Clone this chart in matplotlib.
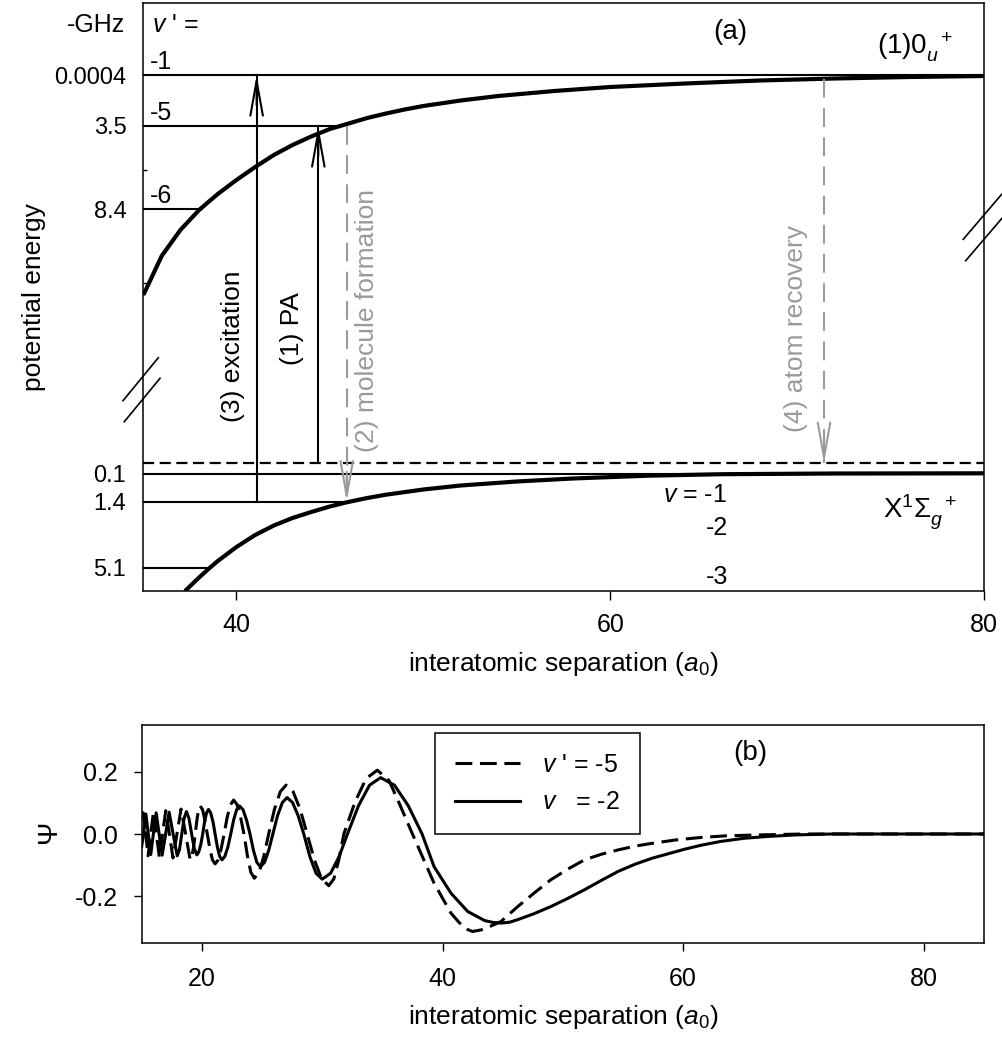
import matplotlib.pyplot as plt
from matplotlib.lines import Line2D

plt.rcParams['font.family'] = ['Liberation Sans', 'DejaVu Sans']
plt.rcParams['mathtext.fontset'] = 'custom'
plt.rcParams['mathtext.rm'] = 'Liberation Sans'
plt.rcParams['mathtext.it'] = 'Liberation Sans:italic'
plt.rcParams['axes.unicode_minus'] = False

GRAY = '#9a9a9a'

# ---------------- panel (a) data ----------------
# energy axis is broken and non-linear, so y is in plot units (0 = bottom, 588 = top)
r_upper = [35.02, 36.0, 37.0, 38.0, 39.0, 40.0, 41.0, 42.0, 43.0, 44.0, 45.0, 46.0,
           47.0, 48.0, 49.0, 50.0, 52.0, 54.0, 57.0, 60.0, 64.0, 68.0, 72.0, 76.0, 80.0]
E_upper = [296, 335, 361, 381, 397, 411, 424, 436, 446, 454.5, 462, 467.5,
           473, 477.5, 481.5, 485, 490.5, 495, 500, 504, 507.5, 510.5, 512.5, 514, 515]

r_lower = [37.25, 38.0, 38.5, 39.0, 40.0, 41.0, 42.0, 43.0, 44.0, 45.0, 45.9, 47.0,
           48.0, 50.0, 52.0, 55.0, 58.0, 62.0, 66.0, 72.0, 80.0]
E_lower = [0, 13.5, 22, 30, 44, 56, 65.5, 73, 79, 84.5, 88.7, 93,
           96.3, 101.5, 105.5, 109.5, 112.5, 115.3, 116.8, 117.5, 117.7]

# bound levels of (1)0u+ : v' = -1, -5, -6
upper_level_pos = [516, 465, 382]
upper_level_end = [80, 45.4, 38.2]
upper_level_names = ['-1', '-5', '-6']
upper_level_ghz = ['0.0004', '3.5', '8.4']

# bound levels of X state : v = -1, -2, -3
lower_level_pos = [117.5, 89.3, 23.3]
lower_level_end = [80, 45.9, 38.5]
lower_level_ghz = ['0.1', '1.4', '5.1']
threshold = 127.7

# transitions
trans_label = ['(3) excitation', '(1) PA', '(2) molecule formation', '(4) atom recovery']
trans_r = [41.08, 44.38, 45.9, 71.44]
trans_from = [89.3, 127.7, 465, 512]
trans_to = [516, 465, 89.3, 127.7]
trans_color = ['k', 'k', GRAY, GRAY]
trans_dashed = [False, False, True, True]
trans_text_r = [39.8, 42.97, 46.99, 69.94]
trans_text_y = [169, 226, 139, 159]

# ---------------- panel (b) data ----------------
r_vp5 = [15.0, 15.13, 15.33, 15.53, 15.75, 15.98, 16.22, 16.47, 16.73, 17.0,
         17.3, 17.6, 17.93, 18.27, 18.65, 19.03, 19.17, 19.31, 19.45, 19.59,
         19.72, 19.86, 20.06, 20.25, 20.45, 20.67, 20.88, 21.1, 21.35, 21.6,
         21.85, 22.11, 22.38, 22.64, 22.93, 23.21, 23.5, 23.79, 24.07, 24.36,
         24.76, 25.15, 25.55, 26.03, 26.52, 27.0, 27.58, 28.17, 28.75, 29.35,
         29.95, 30.55, 30.97, 31.38, 31.8, 32.73, 33.65, 34.58, 35.55, 36.5,
         37.5, 37.9, 39.3, 40.7, 41.4, 42.1, 42.5, 43.2, 44.0, 44.86,
         46.25, 47.6, 49.0, 50.4, 51.8, 53.2, 54.6, 56.0, 57.4, 59.4,
         61.5, 63.5, 66.2, 70.0, 85.0]
psi_vp5 = [0.05, 0.068, 0.0, -0.07, 0.0, 0.072, 0.0, -0.075, 0.0, 0.075,
           0.0, -0.077, 0.0, 0.08, 0.0, -0.083, -0.072, -0.042, 0.0, 0.045,
           0.078, 0.09, 0.078, 0.045, 0.0, -0.048, -0.083, -0.096, -0.083, -0.048,
           0.0, 0.055, 0.094, 0.109, 0.094, 0.055, 0.0, -0.071, -0.123, -0.142,
           -0.123, -0.071, 0.0, 0.079, 0.136, 0.157, 0.136, 0.079, 0.0, -0.083,
           -0.144, -0.166, -0.144, -0.083, 0.0, 0.103, 0.178, 0.205, 0.172, 0.09,
           0.0, -0.035, -0.158, -0.254, -0.285, -0.307, -0.313, -0.308, -0.296, -0.281,
           -0.233, -0.19, -0.147, -0.113, -0.083, -0.065, -0.051, -0.039, -0.03, -0.019,
           -0.011, -0.006, -0.003, 0.0, 0.0]

r_v2 = [15.0, 15.15, 15.35, 15.55, 15.75, 15.97, 16.2, 16.45, 16.7, 16.99,
        17.28, 17.61, 17.95, 18.14, 18.33, 18.52, 18.72, 18.93, 19.15, 19.37,
        19.58, 19.74, 19.91, 20.07, 20.23, 20.39, 20.55, 20.73, 20.92, 21.1,
        21.29, 21.48, 21.67, 21.91, 22.16, 22.4, 22.64, 22.89, 23.13, 23.42,
        23.71, 24.0, 24.29, 24.57, 24.86, 25.21, 25.55, 25.9, 26.29, 26.69,
        27.08, 27.54, 28.0, 28.47, 28.98, 29.49, 30.0, 30.7, 31.4, 32.1,
        33.02, 33.94, 34.86, 36.0, 37.15, 38.3, 39.3, 40.7, 42.1, 43.5,
        44.2, 44.9, 45.6, 46.25, 47.6, 49.0, 50.4, 51.8, 53.2, 54.6,
        56.0, 57.4, 58.8, 60.1, 61.5, 63.1, 65.0, 67.0, 69.3, 72.4, 85.0]
psi_v2 = [-0.04, 0.0, 0.064, 0.0, -0.066, 0.0, 0.068, 0.0, -0.068, 0.0,
          0.07, 0.0, -0.07, -0.05, 0.0, 0.05, 0.072, 0.05, 0.0, -0.047,
          -0.067, -0.058, -0.034, 0.0, 0.04, 0.068, 0.079, 0.068, 0.04, 0.0,
          -0.042, -0.072, -0.083, -0.072, -0.042, 0.0, 0.045, 0.078, 0.09, 0.078,
          0.045, 0.0, -0.053, -0.091, -0.105, -0.091, -0.053, 0.0, 0.059, 0.101,
          0.117, 0.101, 0.059, 0.0, -0.073, -0.126, -0.145, -0.126, -0.073, 0.0,
          0.091, 0.157, 0.181, 0.157, 0.091, 0.0, -0.105, -0.19, -0.249, -0.278,
          -0.284, -0.286, -0.283, -0.275, -0.256, -0.233, -0.207, -0.179, -0.149, -0.12,
          -0.097, -0.078, -0.063, -0.049, -0.036, -0.024, -0.014, -0.008, -0.003, 0.0, 0.0]

# axis break marks (data coords of panel a)
break_marks = [((33.93, 35.82), (190.3, 233.3)), ((34.0, 35.91), (169.3, 212.7)),
               ((78.89, 80.96), (351.7, 397.0)), ((79.02, 80.96), (330.3, 372.7))]

fig = plt.figure(figsize=(10.02, 10.38), dpi=100)
ax = fig.add_axes([143 / 1002, 1 - 591 / 1038, 841 / 1002, 588 / 1038])
bx = fig.add_axes([141.7 / 1002, 1 - 943 / 1038, 842.3 / 1002, 218 / 1038])

# ---------------- panel (a) ----------------
ax.set_xlim(35, 80)
ax.set_ylim(0, 588)
ax.plot(r_upper, E_upper, color='k', lw=3.0, solid_capstyle='butt')
ax.plot(r_lower, E_lower, color='k', lw=3.0, solid_capstyle='butt')

for pos, end, name in zip(upper_level_pos, upper_level_end, upper_level_names):
    ax.hlines(pos, 35, end, color='k', lw=1.5)
    ax.text(35.37, pos + 13, name, fontsize=18, ha='left', va='center')
for pos, end in zip(lower_level_pos, lower_level_end):
    ax.hlines(pos, 35, end, color='k', lw=1.5)
ax.axhline(threshold, color='k', lw=1.6, ls=(0, (5, 2.5)))

for lab, r, y0, y1, c, dsh, tr, ty in zip(trans_label, trans_r, trans_from, trans_to,
                                          trans_color, trans_dashed, trans_text_r, trans_text_y):
    ax.plot([r, r], [y0, y1], color=c, lw=1.5, ls=(0, (9, 5)) if dsh else '-')
    sgn = 1 if y1 > y0 else -1
    ax.annotate('', xy=(r, y1), xytext=(r, y1 - sgn * 30),
                arrowprops=dict(arrowstyle='->,head_length=2.5,head_width=0.45',
                                mutation_scale=10, color=c, lw=1.5,
                                shrinkA=0, shrinkB=0))
    ax.text(tr, ty, lab, rotation=90, fontsize=19, color=c, ha='center', va='bottom')

for xs, ys in break_marks:
    ax.plot(xs, ys, color='k', lw=1.2, clip_on=False)

ax.text(35.48, 566, r"$v$ ' =", fontsize=18, ha='left', va='center')
ax.text(34.04, 566, '-GHz', fontsize=18, ha='right', va='center', clip_on=False)
ax.text(0.698, 0.951, '(a)', transform=ax.transAxes, fontsize=20, ha='center', va='center')
ax.text(74.3, 536, r'(1)0$_{u}^{\ \ +}$', fontsize=20, ha='left', va='baseline')
ax.text(74.6, 72.7, r'X$^{1}\Sigma_{g}^{\ \ +}$', fontsize=20, ha='left', va='baseline')
ax.text(66.25, 96, r'$v$ = -1', fontsize=18, ha='right', va='center')
ax.text(66.3, 63, '-2', fontsize=18, ha='right', va='center')
ax.text(66.3, 14, '-3', fontsize=18, ha='right', va='center')

ax.set_yticks(upper_level_pos + lower_level_pos)
ax.set_yticklabels(upper_level_ghz + lower_level_ghz)
ax.set_yticks([421, 308], minor=True)
ax.tick_params(axis='y', which='major', length=0, pad=12, labelsize=17)
ax.tick_params(axis='y', which='minor', direction='in', length=3, width=1)
ax.set_xticks([40, 60, 80])
ax.tick_params(axis='x', direction='out', length=6.5, width=1, pad=9, labelsize=18)
ax.set_xlabel(r'interatomic separation ($a_0$)', fontsize=19, labelpad=10)
ax.set_ylabel('potential energy', fontsize=19, labelpad=6)
for s in ax.spines.values():
    s.set_linewidth(1.1)

# ---------------- panel (b) ----------------
bx.set_xlim(15, 85)
bx.set_ylim(-0.35, 0.35)
bx.plot(r_vp5, psi_vp5, color='k', lw=2.2, ls=(0, (5.5, 2.5)))
bx.plot(r_v2, psi_v2, color='k', lw=2.2)
bx.set_xticks([20, 40, 60, 80])
bx.set_yticks([-0.2, 0.0, 0.2])
bx.set_yticklabels(['-0.2', '0.0', '0.2'])
bx.tick_params(direction='out', length=6, width=1, pad=11, labelsize=18)
bx.set_xlabel(r'interatomic separation ($a_0$)', fontsize=19, labelpad=9)
bx.set_ylabel(r'$\Psi$', fontsize=20, labelpad=8, family='Liberation Serif')
bx.text(0.722, 0.872, '(b)', transform=bx.transAxes, fontsize=20, ha='center', va='center')
handles = [Line2D([], [], color='k', lw=2.2, ls=(0, (5.5, 2.5))),
           Line2D([], [], color='k', lw=2.2)]
leg = bx.legend(handles, [r"$v$ ' = -5", r"$v$   = -2"], loc='upper left',
                bbox_to_anchor=(0.348, 0.965), borderaxespad=0, fontsize=18,
                fancybox=False, edgecolor='k', framealpha=1, handlelength=2.6,
                handletextpad=0.9, borderpad=0.8, labelspacing=0.55)
leg.get_frame().set_linewidth(1.1)
for s in bx.spines.values():
    s.set_linewidth(1.1)

fig.savefig('out.png', dpi=100)
